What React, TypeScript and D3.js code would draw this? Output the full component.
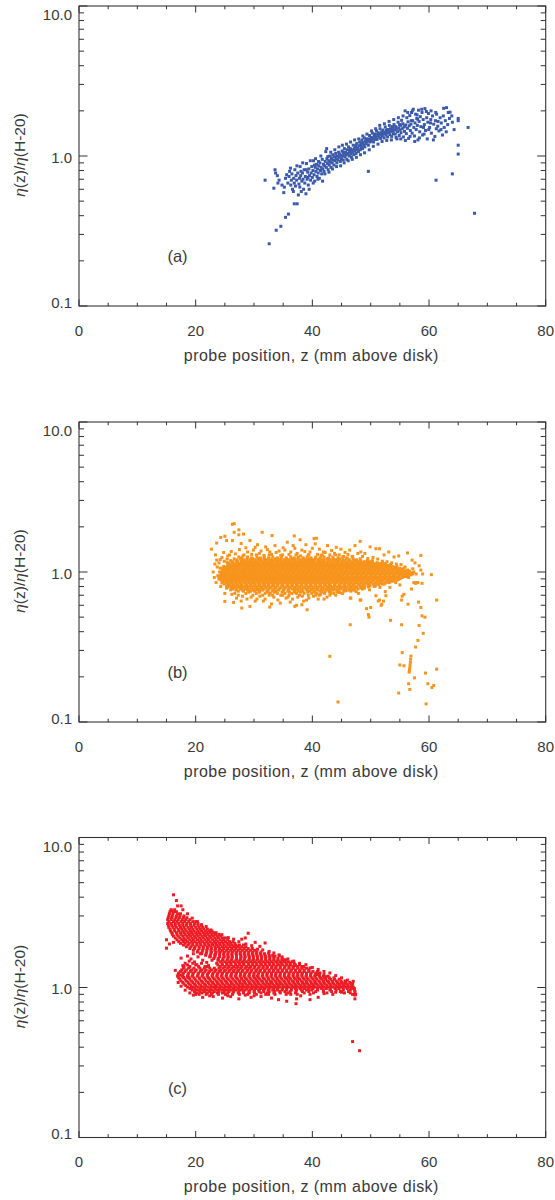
import React from 'react';
import * as d3 from 'd3';

const X_DOMAIN: [number, number] = [0, 80];
const Y_DOMAIN: [number, number] = [0.1, 10];
const X_TICKS = [0, 20, 40, 60, 80];
const Y_TICKS = [0.1, 1, 10];
const Y_TICK_LABELS = ['0.1', '1.0', '10.0'];
const PANEL_LABELS = ['(a)', '(b)', '(c)'];
const X_TITLE = 'probe position, z (mm above disk)';
const COLORS = ['#3b5aa9', '#f7941d', '#ed1c24'];

// Panel (a): [z, eta]
const pointsA: [number, number][] = [
  [31.9,0.69],[32.6,0.26],[33.4,0.61],[33.6,0.81],[33.7,0.77],[33.8,0.32],[34.0,0.74],[34.1,0.66],[34.3,0.69],[34.6,0.34],[34.8,0.64],[35.1,0.57],[35.2,0.62],[35.4,0.39],[35.4,0.71],[35.6,0.75],[35.8,0.66],[35.9,0.41],
  [36.0,0.73],[36.1,0.79],[36.3,0.64],[36.4,0.69],[36.5,0.76],[36.6,0.6],[36.8,0.71],[36.9,0.48],[36.9,0.66],[37.0,0.81],[37.1,0.63],[37.2,0.74],[37.3,0.69],[37.4,0.48],[37.5,0.77],[37.6,0.55],[37.7,0.65],[37.8,0.71],[37.9,0.85],[38.0,0.74],[38.1,0.58],[38.2,0.68],[38.3,0.77],[38.4,0.7],[38.5,0.6],[38.6,0.81],[38.7,0.66],[38.8,0.73],[38.9,0.56],
  [39.0,0.89],[39.1,0.7],[39.2,0.78],[39.3,0.64],[39.4,0.82],[39.5,0.74],[39.7,0.69],[39.8,0.77],[39.9,0.85],[40.0,0.72],[40.1,0.8],[40.2,0.93],[40.3,0.75],[40.4,0.68],[40.5,0.84],[40.6,0.79],[40.7,0.88],[40.8,0.73],[40.9,0.82],[41.0,0.77],[41.1,0.86],[41.2,0.71],[41.3,0.9],[41.4,0.8],[41.5,0.84],[41.6,0.76],[41.7,0.95],[41.8,0.82],[41.9,0.88],
  [42.0,0.79],[42.1,0.86],[42.2,0.92],[42.3,1.07],[42.4,0.84],[42.5,0.96],[42.6,0.89],[42.7,0.81],[42.8,0.93],[42.9,0.87],[43.0,1.0],[43.1,0.91],[43.2,0.84],[43.3,0.97],[43.4,0.9],[43.5,1.02],[43.6,0.94],[43.7,0.87],[43.8,0.99],[43.9,0.93],[44.0,1.04],[44.1,0.96],[44.2,0.9],[44.3,1.0],[44.4,0.94],[44.5,1.06],[44.6,0.98],[44.8,0.92],[44.9,1.01],
  [45.0,0.96],[45.1,1.08],[45.2,1.0],[45.3,0.94],[45.4,1.04],[45.5,1.12],[45.6,0.99],[45.7,1.06],[45.8,1.02],[45.9,0.95],[46.0,1.1],[46.1,1.04],[46.2,1.15],[46.3,1.0],[46.4,1.07],[46.5,1.12],[46.6,1.03],[46.7,0.98],[46.8,1.1],[46.9,1.06],[47.0,1.18],[47.1,1.02],[47.2,1.12],[47.3,1.08],[47.4,1.15],[47.5,1.04],[47.6,1.21],[47.7,1.1],[47.8,1.13],[47.9,1.07],
  [48.0,1.17],[48.1,1.24],[48.2,1.1],[48.3,1.19],[48.4,1.14],[48.5,1.28],[48.6,1.12],[48.7,1.23],[48.8,1.18],[48.9,1.32],[49.0,1.15],[49.1,1.26],[49.2,1.21],[49.3,1.3],[49.4,1.24],[49.6,0.79],[49.6,1.18],[49.7,1.3],[49.8,1.37],[49.9,1.24],[50.0,1.29],[50.1,1.33],[50.2,1.26],[50.3,1.42],[50.4,1.31],[50.5,1.24],[50.6,1.36],[50.7,1.29],[50.8,1.4],[50.9,1.33],
  [51.0,1.47],[51.1,1.29],[51.2,1.37],[51.3,1.43],[51.4,1.34],[51.5,1.4],[51.6,1.52],[51.7,1.31],[51.8,1.38],[51.9,1.45],[52.0,1.36],[52.1,1.49],[52.2,1.41],[52.3,1.32],[52.4,1.44],[52.5,1.56],[52.6,1.38],[52.7,1.48],[52.8,1.42],[52.9,1.34],[53.0,1.5],[53.1,1.44],[53.2,1.6],[53.3,1.39],[53.4,1.52],[53.5,1.46],[53.6,1.35],[53.7,1.57],[53.8,1.48],[53.9,1.41],
  [54.0,1.62],[54.1,1.49],[54.2,1.4],[54.3,1.57],[54.4,1.51],[54.5,1.3],[54.6,1.45],[54.7,1.68],[54.8,1.54],[54.9,1.37],[55.0,1.49],[55.1,1.6],[55.2,1.43],[55.3,1.73],[55.4,1.52],[55.5,1.64],[55.6,1.34],[55.7,1.56],[55.8,1.46],[55.9,2.0],[56.0,1.61],[56.1,1.41],[56.2,1.8],[56.3,1.53],[56.4,1.69],[56.5,1.31],[56.6,1.59],[56.7,1.86],[56.8,1.48],[56.9,1.63],
  [57.0,1.95],[57.1,1.42],[57.2,1.72],[57.3,2.05],[57.4,1.55],[57.5,1.36],[57.6,1.66],[57.7,1.9],[57.8,1.5],[57.9,1.78],[58.0,1.6],[58.1,1.28],[58.2,2.02],[58.3,1.7],[58.4,1.45],[58.5,1.83],[58.6,1.57],[58.8,1.95],[58.9,1.38],[59.0,1.75],[59.2,1.62],[59.3,2.07],[59.4,1.48],[59.6,1.8],[59.7,1.3],[59.8,1.68],[59.9,1.92],
  [60.1,1.55],[60.3,1.75],[60.4,1.42],[60.6,1.85],[60.8,1.63],[61.0,1.35],[61.1,1.72],[61.3,1.9],[61.5,1.58],[61.7,1.47],[61.9,1.8],[62.1,1.66],[62.3,1.38],[62.5,2.08],[62.6,1.55],[62.8,1.72],[63.2,1.62],[63.5,1.78],[63.6,1.96],[63.9,1.85],
  [36.25,0.83],[36.75,0.58],[37.35,0.86],[37.85,0.62],[38.35,0.9],[38.95,0.81],[39.45,0.6],[39.65,0.93],[40.15,0.66],[40.55,0.96],[40.95,0.7],[41.45,1.0],[41.75,0.68],[42.15,0.76],[42.45,1.12],[42.85,0.78],[43.15,1.06],[43.45,0.82],[43.85,1.1],[44.15,0.85],[44.55,1.15],[44.85,0.86],[45.15,1.18],[45.45,0.9],[45.85,1.2],[46.15,0.93],[46.55,1.24],[46.85,0.95],[47.25,1.28],[47.55,0.98],[47.95,1.3],[48.25,1.02],[48.65,1.36],[48.95,1.05],[49.35,1.4],[49.75,1.1],[50.15,1.47],[50.45,1.16],[50.85,1.52],[51.25,1.2],[51.55,1.6],[51.95,1.25],[52.35,1.64],[52.75,1.27],[53.15,1.7],[53.55,1.28],[53.95,1.75],[54.35,1.33],[54.75,1.8],[55.15,1.3],[55.55,1.85],[55.95,1.27],[56.35,1.95],[56.75,1.35],[57.15,2.0],[57.55,1.25],[57.95,1.88],[58.35,1.32],[58.75,2.05],[59.15,1.4],[59.55,1.98],[59.95,1.5],[60.35,2.0],[60.75,1.28],[61.15,1.95],[61.55,1.7],[62.05,1.5],[62.45,1.85],[62.95,1.45],[63.3,1.95],[64.0,1.68],[64.3,1.5],[63.0,2.1],
  [38.05,0.79],[39.25,0.72],[40.35,0.87],[41.05,0.92],[42.65,0.99],[43.25,0.95],[44.65,1.03],[45.25,1.06],[46.45,1.09],[47.45,1.17],[48.45,1.22],[49.55,1.27],[50.65,1.38],[51.85,1.42],[52.85,1.5],[53.85,1.55],[54.95,1.62],[55.85,1.58],[56.95,1.72],[58.05,1.76],[59.05,1.55],[60.25,1.66],[61.25,1.52],
  [61.2,0.69],[64.0,0.76],[65.0,1.18],[65.0,1.03],[65.0,1.78],[65.0,1.72],[66.7,1.55],[67.8,0.415]
];

// Panel (b): dense rows [eta, z values]
const rowsB: [number, number[]][] = [
  [0.70, [29.8,31.5,33.2,34.6,36.0,37.8,39.3,41.2,43.0]],
  [0.72, [28.6,30.4,31.9,32.8,34.0,35.3,36.5,37.3,38.6,39.9,40.8,42.1,43.7,45.1]],
  [0.733, [29.1,30.9,32.4,33.5,34.8,36.1,37.0,38.0,39.2,40.4,41.6,42.9,44.3]],
  [0.745, [27.3,28.2,29.4,30.1,31.0,32.2,33.1,33.8,35.0,35.8,36.9,37.6,38.4,39.5,40.3,41.4,42.2,43.1,44.2,45.4,46.6]],
  [0.757, [26.9,28.0,28.9,29.8,30.6,31.5,32.4,33.3,34.2,35.1,35.9,36.9,37.5,38.2,39.1,39.9,40.9,41.8,42.7,43.6,44.5,45.4,46.3,47.2]],
  [0.77, [26.4,27.6,28.5,29.2,30.0,30.9,31.6,32.5,33.4,34.3,35.1,35.9,36.6,37.4,38.1,39.0,39.8,40.6,41.5,42.4,43.2,44.0,44.9,45.8,46.7,47.8]],
  [0.782, [26.1,27.0,27.9,28.7,29.6,30.4,31.2,32.0,32.8,33.7,34.5,35.3,36.1,37.0,37.7,38.5,39.3,40.2,41.0,41.9,42.8,43.7,44.6,45.5,46.4,47.3,48.3]],
  [0.795, [25.6,26.6,27.5,28.1,28.9,29.7,30.5,31.3,32.1,32.9,33.7,34.6,35.4,36.2,37.0,37.8,38.6,39.4,40.1,40.9,41.7,42.6,43.4,44.3,45.1,45.9,46.8,47.6,48.5,49.6]],
  [0.807, [25.3,26.2,26.9,27.7,28.5,29.3,30.1,30.8,31.6,32.4,33.2,34.0,34.9,35.8,36.6,37.4,38.2,39.0,39.8,40.6,41.4,42.3,43.1,43.9,44.8,45.6,46.5,47.3,48.2,49.0,49.9,50.8]],
  [0.82, [25.8,26.5,27.2,27.9,28.7,29.5,30.2,31.0,31.8,32.5,33.3,34.0,34.8,35.7,36.5,37.3,38.1,38.9,39.7,40.5,41.3,42.1,42.9,43.8,44.6,45.5,46.3,47.1,48.0,48.8,49.7,50.6,51.4]],
  [0.832, [24.9,25.6,26.4,27.1,27.9,28.7,29.4,30.2,31.0,31.7,32.5,33.3,34.1,34.9,35.7,36.5,37.3,38.1,38.9,39.7,40.5,41.3,42.1,42.9,43.8,44.6,45.4,46.2,47.0,47.9,48.7,49.5,50.4,51.2,52.0]],
  [0.845, [24.5,25.3,26.1,26.9,27.6,28.4,29.2,29.9,30.7,31.5,32.2,33.0,33.7,34.5,35.2,36.0,36.8,37.6,38.4,39.2,40.0,40.8,41.6,42.4,43.2,44.0,44.9,45.7,46.6,47.4,48.3,49.1,49.9,50.8,51.6,52.5]],
  [0.857, [24.6,25.4,26.2,26.9,27.7,28.5,29.2,30.0,30.8,31.6,32.3,33.1,33.8,34.6,35.4,36.2,37.0,37.8,38.6,39.4,40.2,41.0,41.8,42.6,43.4,44.2,45.0,45.8,46.6,47.5,48.3,49.2,50.0,50.9,51.7,52.6,53.3]],
  [0.87, [25.0,25.7,26.5,27.3,28.0,28.8,29.6,30.3,31.1,31.9,32.6,33.4,34.1,34.9,35.6,36.4,37.2,38.0,38.8,39.6,40.4,41.2,42.0,42.8,43.6,44.4,45.3,46.1,46.9,47.8,48.6,49.5,50.3,51.2,52.0,52.9,53.6]],
  [0.882, [24.4,25.2,25.9,26.7,27.4,28.2,29.0,29.7,30.5,31.3,32.0,32.8,33.5,34.3,35.1,35.9,36.7,37.5,38.3,39.1,39.9,40.7,41.5,42.3,43.1,43.9,44.7,45.5,46.3,47.1,48.0,48.8,49.6,50.4,51.3,52.1,53.0,53.8,54.5]],
  [0.895, [24.0,24.8,25.5,26.2,27.0,27.7,28.5,29.3,30.0,30.8,31.5,32.3,33.0,33.8,34.5,35.3,36.1,36.9,37.7,38.5,39.3,40.1,40.9,41.7,42.5,43.3,44.1,45.0,45.8,46.6,47.4,48.2,49.1,49.9,50.7,51.6,52.4,53.3,54.1,54.8]],
  [0.907, [24.3,25.0,25.8,26.5,27.2,28.0,28.7,29.5,30.2,31.0,31.8,32.5,33.3,34.0,34.8,35.6,36.4,37.2,38.0,38.8,39.6,40.4,41.2,42.0,42.8,43.6,44.4,45.2,46.0,46.8,47.6,48.4,49.2,50.0,50.9,51.7,52.6,53.4,54.3,55.1]],
  [0.92, [24.6,25.3,26.0,26.8,27.5,28.3,29.0,29.8,30.5,31.3,32.0,32.8,33.5,34.3,35.0,35.8,36.6,37.4,38.2,39.0,39.8,40.6,41.4,42.2,43.0,43.8,44.7,45.5,46.3,47.1,47.9,48.7,49.6,50.4,51.2,52.0,52.9,53.7,54.5,55.4]],
  [0.932, [24.2,24.9,25.6,26.4,27.1,27.8,28.6,29.3,30.1,30.8,31.6,32.4,33.1,33.9,34.6,35.4,36.2,37.0,37.8,38.6,39.4,40.2,41.0,41.8,42.6,43.4,44.2,45.0,45.9,46.7,47.5,48.3,49.1,49.9,50.7,51.5,52.3,53.1,53.9,54.7,55.5,56.1]],
  [0.945, [23.8,24.5,25.2,26.0,26.7,27.4,28.2,28.9,29.7,30.4,31.2,31.9,32.7,33.4,34.2,34.9,35.7,36.5,37.3,38.1,38.9,39.7,40.5,41.3,42.1,42.9,43.7,44.5,45.3,46.1,46.9,47.7,48.5,49.3,50.1,50.9,51.7,52.5,53.3,54.1,54.9,55.6,56.3]],
  [0.957, [24.3,25.0,25.7,26.5,27.2,28.0,28.7,29.5,30.2,31.0,31.7,32.5,33.3,34.0,34.8,35.6,36.4,37.2,38.0,38.8,39.6,40.4,41.2,42.0,42.8,43.6,44.4,45.2,46.0,46.8,47.6,48.4,49.2,50.0,50.8,51.6,52.4,53.2,54.0,54.8,55.5,56.2,56.9]],
  [0.97, [24.7,25.4,26.2,26.9,27.7,28.4,29.2,29.9,30.7,31.4,32.2,32.9,33.7,34.4,35.2,36.0,36.8,37.6,38.4,39.2,40.0,40.8,41.6,42.4,43.2,44.0,44.8,45.6,46.4,47.2,48.0,48.8,49.6,50.4,51.2,52.0,52.8,53.6,54.4,55.2,55.9,56.6,57.2]],
  [0.985, [24.4,25.2,26.0,26.7,27.5,28.2,29.0,29.7,30.5,31.2,32.0,32.7,33.5,34.2,35.0,35.8,36.6,37.4,38.2,39.0,39.8,40.6,41.4,42.2,43.0,43.8,44.6,45.4,46.2,47.0,47.8,48.6,49.4,50.2,51.0,51.8,52.6,53.4,54.2,55.0,55.7,56.4,57.1]],
  [1.0, [24.1,24.9,25.6,26.4,27.1,27.9,28.6,29.4,30.1,30.9,31.6,32.4,33.1,33.9,34.6,35.4,36.2,37.0,37.8,38.6,39.4,40.2,41.0,41.8,42.6,43.4,44.2,45.0,45.8,46.6,47.4,48.2,49.0,49.8,50.6,51.4,52.2,53.0,53.8,54.6,55.3,56.0,56.7,57.4]],
  [1.015, [24.6,25.4,26.2,26.9,27.7,28.4,29.2,30.0,30.7,31.5,32.2,33.0,33.7,34.5,35.2,36.0,36.8,37.6,38.4,39.2,40.0,40.8,41.6,42.4,43.2,44.0,44.8,45.6,46.4,47.2,48.0,48.8,49.6,50.4,51.2,52.0,52.8,53.6,54.4,55.1,55.9,56.6]],
  [1.03, [25.1,25.8,26.6,27.3,28.1,28.8,29.6,30.3,31.1,31.8,32.6,33.3,34.1,34.8,35.6,36.4,37.2,38.0,38.8,39.6,40.4,41.2,42.0,42.8,43.6,44.4,45.2,46.0,46.8,47.6,48.4,49.2,50.0,50.8,51.6,52.4,53.2,54.0,54.8,55.5,56.3]],
  [1.045, [24.9,25.6,26.4,27.1,27.9,28.7,29.4,30.2,30.9,31.7,32.4,33.2,33.9,34.7,35.4,36.2,37.0,37.8,38.6,39.4,40.2,41.0,41.8,42.6,43.4,44.2,45.0,45.8,46.6,47.4,48.2,49.0,49.8,50.6,51.4,52.2,53.0,53.8,54.6,55.4]],
  [1.06, [24.5,25.3,26.0,26.8,27.5,28.3,29.0,29.8,30.5,31.3,32.0,32.8,33.5,34.3,35.0,35.8,36.6,37.4,38.2,39.0,39.8,40.6,41.4,42.2,43.0,43.8,44.6,45.4,46.2,47.0,47.8,48.6,49.4,50.2,51.0,51.8,52.6,53.4,54.2,55.0,55.7]],
  [1.075, [25.2,25.9,26.7,27.4,28.2,28.9,29.7,30.4,31.2,31.9,32.7,33.4,34.2,34.9,35.7,36.5,37.3,38.1,38.9,39.7,40.5,41.3,42.1,42.9,43.7,44.5,45.3,46.1,46.9,47.7,48.5,49.3,50.1,50.9,51.7,52.5,53.3,54.1]],
  [1.09, [24.8,25.6,26.3,27.1,27.8,28.6,29.3,30.1,30.8,31.6,32.3,33.1,33.8,34.6,35.3,36.1,36.9,37.7,38.5,39.3,40.1,40.9,41.7,42.5,43.3,44.1,44.9,45.7,46.5,47.3,48.1,48.9,49.7,50.5,51.3,52.1,52.9,53.7,54.5]],
  [1.105, [25.5,26.3,27.0,27.8,28.5,29.3,30.0,30.8,31.5,32.3,33.0,33.8,34.5,35.3,36.1,36.9,37.7,38.5,39.3,40.1,40.9,41.7,42.5,43.3,44.1,44.9,45.7,46.5,47.3,48.1,48.9,49.7,50.5,51.3,52.2,53.0]],
  [1.12, [25.9,26.7,27.4,28.2,28.9,29.7,30.4,31.2,31.9,32.7,33.4,34.2,34.9,35.7,36.5,37.3,38.1,38.9,39.7,40.5,41.3,42.1,42.9,43.7,44.5,45.3,46.1,46.9,47.7,48.5,49.3,50.1,50.9,51.7,52.6,53.4]],
  [1.137, [25.7,26.6,27.5,28.3,29.0,29.8,30.6,31.4,32.1,32.9,33.7,34.5,35.2,36.0,36.8,37.6,38.4,39.2,40.0,40.8,41.6,42.4,43.2,44.0,44.8,45.6,46.4,47.2,48.1,48.9,49.8,50.6,51.5,52.4]],
  [1.155, [25.4,26.3,27.1,27.9,28.6,29.4,30.2,30.9,31.7,32.5,33.2,34.0,34.8,35.5,36.3,37.1,37.9,38.7,39.5,40.3,41.1,41.9,42.7,43.5,44.3,45.1,45.9,46.8,47.6,48.5,49.3,50.2,51.1,52.0]],
  [1.172, [26.3,27.2,28.1,28.9,29.8,30.6,31.5,32.3,33.1,34.0,34.8,35.7,36.5,37.4,38.2,39.1,39.9,40.8,41.6,42.5,43.4,44.2,45.1,46.0,46.9,47.9,48.9,49.8]],
  [1.19, [26.0,26.9,27.8,28.6,29.4,30.3,31.1,31.9,32.8,33.6,34.4,35.3,36.1,36.9,37.8,38.6,39.5,40.3,41.2,42.0,42.9,43.8,44.6,45.5,46.4,47.3,48.3,49.4,50.3]],
  [1.207, [27.1,28.2,29.3,30.2,31.2,32.1,33.1,34.1,35.1,36.0,37.0,38.0,39.0,40.0,41.0,42.0,43.1,44.1,45.2,46.3,47.6]],
  [1.225, [26.6,27.7,28.8,29.8,30.7,31.7,32.6,33.6,34.6,35.6,36.5,37.5,38.5,39.5,40.5,41.5,42.5,43.6,44.7,45.8,47.0,48.2]],
  [1.242, [27.9,29.6,31.1,32.5,34.0,35.5,36.9,38.4,39.8,41.3,42.8,44.4,46.0]],
  [1.26, [27.4,28.9,30.5,31.8,33.2,34.7,36.3,37.6,39.1,40.6,42.0,43.5,45.2,46.8]],
  [1.3, [28.3,30.4,32.6,34.9,37.2,39.4,41.7,44.0]]
];

// Panel (b): scattered points [z, eta]
const scatterB: [number, number][] = [
  [22.7,1.42],[23.6,1.56],[24.3,1.7],[25.0,1.73],[25.3,1.62],[26.3,1.62],[26.3,2.08],[26.6,2.1],[26.6,1.84],[27.4,1.77],[27.4,1.91],[28.2,1.79],[27.8,1.55],[28.6,1.45],[29.3,1.62],[29.9,1.4],[30.6,1.52],[31.4,1.84],[31.2,1.38],[32.0,1.47],[32.7,1.36],[33.1,1.75],[33.6,1.5],[34.3,1.38],[35.0,1.45],[35.7,1.58],[36.3,1.36],[36.9,1.74],[37.0,1.44],[37.9,1.64],[38.2,1.4],[38.9,1.52],[39.6,1.36],[40.3,1.67],[40.5,1.54],[40.7,1.68],[41.2,1.42],[41.9,1.36],[42.6,1.5],[43.3,1.39],[44.1,1.46],[44.9,1.42],[45.6,1.35],[46.4,1.4],[47.3,1.5],[48.2,1.6],[48.3,1.36],[49.0,1.33],[49.9,1.47],[50.9,1.43],[51.5,1.43],[52.3,1.3],[53.1,1.36],[54.0,1.26],[54.8,1.28],[56.3,1.34],[57.1,1.2],[58.6,1.29],
  [24.2,1.21],[23.4,1.3],[24.8,1.35],[25.5,1.28],[26.1,1.37],[23.9,0.935],[24.2,1.06],[24.7,0.89],[25.2,0.97],[25.9,0.87],[25.3,0.78],[25.0,0.72],[26.2,0.71],[27.0,0.67],[27.8,0.64],[23.3,1.13],[23.0,1.0],
  [23.5,0.85],[23.7,1.08],[23.2,0.92],[24.0,1.15],[24.5,1.25],[24.3,0.8],[23.6,1.2],[24.9,1.18],[25.4,1.22],[25.8,1.3],
  [26.8,1.32],[27.5,1.41],[28.1,1.28],[28.9,1.36],[29.6,1.31],[30.2,1.46],[30.9,1.33],[31.7,1.29],[32.3,1.41],[33.0,1.31],[33.8,1.35],[34.6,1.29],[35.3,1.4],[36.0,1.31],[36.7,1.5],[37.4,1.33],[38.0,1.28],[38.7,1.37],[39.3,1.3],[40.0,1.44],[40.9,1.31],[41.5,1.29],[42.2,1.35],[43.0,1.3],[43.8,1.33],[44.6,1.3],[45.4,1.27],[46.1,1.31],[46.9,1.27],[47.8,1.33],[48.6,1.27],[49.5,1.23],[50.4,1.25],[51.2,1.22],[52.0,1.18],[52.8,1.17],[53.6,1.15],[54.4,1.13],[55.2,1.12],[55.9,1.08],
  [26.0,0.76],[26.7,0.72],[27.3,0.7],[28.0,0.69],[28.8,0.66],[29.5,0.68],[30.2,0.64],[31.0,0.69],[31.9,0.66],[32.6,0.7],[33.4,0.68],[34.1,0.65],[34.9,0.7],[35.8,0.68],[36.6,0.66],[37.5,0.68],[38.3,0.69],[39.4,0.67],[40.6,0.7],[41.4,0.71],[42.0,0.66],[43.2,0.72],[44.7,0.73],[45.8,0.75],[46.9,0.76],[47.9,0.72],[48.9,0.78],[49.8,0.76],[50.6,0.8],[51.6,0.79],[52.3,0.83],[53.1,0.85],[53.9,0.87],[54.8,0.9],[55.6,0.93],[56.3,0.96],
  [25.0,0.637],[26.5,0.627],[27.9,0.575],[29.3,0.59],[30.5,0.66],[31.6,0.64],[32.7,0.584],[33.0,0.612],[34.5,0.62],[35.5,0.67],[36.2,0.63],[37.0,0.59],[37.3,0.6],[38.2,0.605],[38.5,0.64],[39.1,0.56],[39.0,0.65],[40.2,0.69],[41.0,0.66],[42.5,0.68],[44.0,0.7],[45.2,0.72],[46.5,0.67],[47.5,0.74],[48.2,0.65],[48.6,0.77],[49.3,0.57],[49.6,0.52],[49.7,0.5],[50.0,0.58],[50.9,0.695],[51.3,0.64],[51.5,0.65],[51.8,0.6],[51.9,0.61],[52.2,0.64],[52.5,0.74],[52.6,0.695],[53.3,0.79],[53.4,0.476],[46.6,0.67],[48.3,0.65],
  [54.3,0.85],[55.0,0.82],[55.4,0.69],[55.7,0.71],[55.3,0.65],[56.4,0.61],[57.0,0.77],[57.4,0.85],[57.7,0.84],[57.9,0.85],[58.1,0.85],[58.2,0.63],[58.6,0.58],[58.8,0.84],[58.6,1.03],[58.9,0.97],[60.4,0.96],[61.3,0.65],[58.8,0.51],[59.3,0.5],[58.3,0.44],[59.0,0.39],[58.1,0.35],[57.7,0.316],[55.3,0.445],[55.4,0.29],
  [56.9,0.275],[56.85,0.262],[56.8,0.25],[56.75,0.24],[56.7,0.23],[56.65,0.222],[56.6,0.215],[55.0,0.24],[55.7,0.237],[57.5,0.197],[56.5,0.18],[56.7,0.165],[54.8,0.156],[59.4,0.212],[59.8,0.18],[60.5,0.17],[60.8,0.175],[61.3,0.225],[59.5,0.132],[44.4,0.136],[46.5,0.445],[43.0,0.274],
  [56.5,0.92],[57.2,1.05],[57.8,0.97],[58.3,1.1],[57.6,1.15]
];

// Panel (c): dense rows [eta, z values]
const rowsC: [number, number[]][] = [
  [3.3, [15.8,16.4]],
  [3.2, [15.6,16.2,16.7]],
  [3.1, [15.5,16.1,16.9,17.4]],
  [3.0, [15.4,16.0,16.7,17.3,18.0]],
  [2.92, [15.3,15.9,16.6,17.2,17.9,18.5]],
  [2.83, [15.2,15.8,16.4,17.0,17.7,18.3,19.0]],
  [2.75, [15.4,16.2,16.8,17.5,18.1,18.8,19.5,20.0]],
  [2.67, [15.2,15.8,16.5,17.1,17.8,18.5,19.1,19.8,20.4]],
  [2.6, [15.3,15.9,16.5,17.2,17.8,18.4,19.1,19.7,20.4,21.0]],
  [2.52, [15.4,16.1,16.7,17.4,18.0,18.7,19.3,20.0,20.6,21.2]],
  [2.45, [15.6,16.3,17.0,17.6,18.2,18.9,19.5,20.2,20.8,21.4,22.0]],
  [2.38, [15.7,16.4,17.1,17.8,18.4,19.1,19.7,20.4,21.0,21.7,22.3,22.8]],
  [2.32, [15.9,16.7,17.4,18.0,18.7,19.3,20.0,20.6,21.3,21.9,22.5,23.1]],
  [2.26, [16.0,16.8,17.5,18.2,18.9,19.5,20.2,20.8,21.5,22.1,22.8,23.4,24.0]],
  [2.2, [16.2,17.0,17.8,18.5,19.1,19.8,20.4,21.1,21.7,22.4,23.0,23.7,24.3]],
  [2.14, [16.5,17.3,18.0,18.7,19.4,20.0,20.7,21.3,22.0,22.6,23.3,23.9,24.6,25.1]],
  [2.08, [16.8,17.6,18.3,19.0,19.6,20.3,20.9,21.6,22.2,22.9,23.5,24.2,24.8,25.5]],
  [2.02, [17.1,17.9,18.6,19.3,19.9,20.6,21.2,21.9,22.5,23.2,23.8,24.5,25.1,25.8,26.4]],
  [1.97, [17.4,18.2,18.9,19.5,20.2,20.8,21.5,22.1,22.8,23.4,24.1,24.7,25.4,26.0,26.7]],
  [1.92, [17.9,18.7,19.5,20.2,20.9,21.6,22.3,22.9,23.6,24.2,24.9,25.6,26.2,26.9,27.5,28.2]],
  [1.87, [18.4,19.2,19.9,20.6,21.3,22.0,22.6,23.3,23.9,24.6,25.2,25.9,26.5,27.2,27.9,28.6]],
  [1.82, [19.0,19.8,20.6,21.3,22.0,22.7,23.4,24.1,24.8,25.5,26.2,26.9,27.6,28.3,29.0,29.7]],
  [1.77, [19.6,20.4,21.2,21.9,22.6,23.3,24.0,24.6,25.3,26.0,26.6,27.3,28.0,28.7,29.4,30.1]],
  [1.725, [20.3,21.1,21.9,22.7,23.5,24.2,24.9,25.6,26.3,27.0,27.7,28.4,29.1,29.8,30.5,31.2]],
  [1.68, [21.0,21.8,22.6,23.4,24.1,24.8,25.5,26.2,26.9,27.6,28.3,29.0,29.7,30.4,31.1,31.8]],
  [1.64, [21.7,22.5,23.3,24.1,24.8,25.5,26.2,27.0,27.7,28.4,29.1,29.8,30.5,31.2,31.9,32.6,33.2]],
  [1.6, [22.4,23.3,24.1,24.9,25.6,26.3,27.0,27.8,28.5,29.2,29.9,30.6,31.3,32.0,32.7,33.4]],
  [1.56, [23.1,23.9,24.7,25.5,26.2,27.0,27.7,28.4,29.2,29.9,30.6,31.3,32.0,32.7,33.4,34.1,34.8]],
  [1.52, [23.8,24.6,25.4,26.1,26.9,27.6,28.3,29.1,29.8,30.5,31.2,32.0,32.7,33.4,34.1,34.8,35.5]],
  [1.485, [24.2,25.0,25.8,26.5,27.3,28.0,28.7,29.4,30.1,30.9,31.6,32.3,33.0,33.8,34.5,35.2,35.9,36.5]],
  [1.45, [19.5,24.5,25.3,26.0,26.8,27.5,28.2,29.0,29.7,30.4,31.1,31.9,32.6,33.3,34.0,34.7,35.5,36.2,36.9]],
  [1.415, [18.6,20.0,23.8,24.6,25.4,26.1,26.9,27.6,28.3,29.1,29.8,30.5,31.3,32.0,32.7,33.4,34.2,34.9,35.6,36.3,37.1,37.8]],
  [1.38, [18.0,19.0,20.5,22.0,24.2,25.0,25.7,26.5,27.2,27.9,28.7,29.4,30.1,30.9,31.6,32.3,33.1,33.8,34.5,35.3,36.0,36.7,37.5,38.2]],
  [1.345, [17.9,18.8,19.7,20.7,21.5,22.4,23.2,24.0,24.7,25.5,26.2,27.0,27.7,28.5,29.2,30.0,30.7,31.5,32.2,33.0,33.7,34.5,35.2,36.0,36.7,37.5,38.2,39.0]],
  [1.31, [17.6,18.4,19.3,20.1,21.0,21.8,22.7,23.5,24.3,25.1,25.9,26.6,27.4,28.1,28.9,29.6,30.4,31.1,31.9,32.6,33.4,34.1,34.9,35.6,36.4,37.1,37.9,38.6,39.4]],
  [1.28, [17.4,18.2,19.1,19.9,20.8,21.6,22.4,23.3,24.1,24.9,25.7,26.5,27.2,28.0,28.8,29.5,30.3,31.0,31.8,32.6,33.3,34.1,34.8,35.6,36.3,37.1,37.8,38.6,39.4,40.1,40.9]],
  [1.25, [17.1,17.9,18.8,19.6,20.5,21.3,22.2,23.0,23.8,24.6,25.4,26.2,27.0,27.7,28.5,29.3,30.0,30.8,31.5,32.3,33.0,33.8,34.5,35.3,36.0,36.8,37.5,38.3,39.0,39.8,40.6,41.3]],
  [1.22, [17.0,17.8,18.7,19.5,20.4,21.2,22.0,22.9,23.7,24.5,25.3,26.1,26.9,27.7,28.4,29.2,30.0,30.7,31.5,32.2,33.0,33.7,34.5,35.2,36.0,36.7,37.5,38.2,39.0,39.7,40.5,41.2,42.0]],
  [1.19, [16.9,17.7,18.6,19.4,20.3,21.1,22.0,22.8,23.6,24.4,25.2,26.0,26.8,27.6,28.3,29.1,29.9,30.6,31.4,32.2,32.9,33.7,34.4,35.2,35.9,36.7,37.4,38.2,38.9,39.7,40.4,41.2,41.9,42.7]],
  [1.16, [17.1,18.0,18.9,19.7,20.6,21.4,22.2,23.0,23.8,24.6,25.4,26.2,27.0,27.8,28.5,29.3,30.1,30.8,31.6,32.4,33.1,33.9,34.6,35.4,36.1,36.9,37.6,38.4,39.1,39.9,40.6,41.4,42.1,42.9,43.7]],
  [1.135, [17.3,18.2,19.0,19.9,20.7,21.6,22.4,23.2,24.0,24.8,25.6,26.4,27.2,27.9,28.7,29.5,30.3,31.0,31.8,32.5,33.3,34.0,34.8,35.6,36.3,37.1,37.8,38.6,39.3,40.1,40.8,41.6,42.3,43.1,43.8,44.6]],
  [1.105, [17.5,18.4,19.3,20.1,21.0,21.8,22.6,23.5,24.3,25.1,25.9,26.7,27.5,28.2,29.0,29.8,30.5,31.3,32.1,32.8,33.6,34.3,35.1,35.9,36.6,37.4,38.1,38.9,39.6,40.4,41.1,41.9,42.6,43.4,44.1,44.9,45.6]],
  [1.08, [17.8,18.7,19.5,20.4,21.2,22.1,22.9,23.7,24.5,25.3,26.1,26.9,27.6,28.4,29.2,30.0,30.7,31.5,32.2,33.0,33.8,34.5,35.3,36.0,36.8,37.5,38.3,39.0,39.8,40.5,41.3,42.0,42.8,43.5,44.3,45.0,45.7,46.4]],
  [1.055, [18.0,18.9,19.8,20.6,21.5,22.3,23.1,23.9,24.7,25.5,26.3,27.1,27.9,28.6,29.4,30.2,30.9,31.7,32.5,33.2,34.0,34.7,35.5,36.2,37.0,37.7,38.5,39.2,40.0,40.7,41.5,42.2,43.0,43.7,44.5,45.2,45.9,46.6]],
  [1.03, [18.3,19.2,20.0,20.9,21.7,22.6,23.4,24.2,25.0,25.8,26.6,27.4,28.1,28.9,29.7,30.4,31.2,32.0,32.7,33.5,34.2,35.0,35.7,36.5,37.2,38.0,38.7,39.5,40.2,41.0,41.7,42.5,43.2,44.0,44.7,45.4,46.1,46.8]],
  [1.007, [18.6,19.5,20.4,21.2,22.1,22.9,23.7,24.5,25.3,26.1,26.9,27.7,28.4,29.2,30.0,30.7,31.5,32.3,33.0,33.8,34.5,35.3,36.0,36.8,37.5,38.3,39.0,39.8,40.5,41.3,42.0,42.8,43.5,44.3,45.0,45.7,46.4,47.0]],
  [0.985, [19.0,19.9,20.8,21.6,22.5,23.3,24.1,24.9,25.7,26.5,27.3,28.0,28.8,29.6,30.3,31.1,31.8,32.6,33.4,34.1,34.9,35.6,36.4,37.1,37.9,38.6,39.4,40.1,40.9,41.6,42.4,43.1,43.9,44.6,45.3,46.0,46.7,47.2]],
  [0.962, [19.4,20.3,21.2,22.0,22.8,23.7,24.5,25.3,26.1,26.9,27.7,28.5,29.3,30.1,30.8,31.6,32.4,33.2,34.0,34.8,35.6,36.4,37.3,38.1,39.0,39.9,40.9,41.9,43.0,44.1,45.3,46.5,47.2]],
  [0.94, [19.8,20.7,21.5,22.4,23.2,24.0,24.9,25.7,26.5,27.4,28.2,29.1,30.0,30.9,31.7,32.6,33.5,34.4,35.3,36.2,37.2,38.3,39.4,40.6,41.9,43.3,44.8,46.2,47.3]],
  [0.92, [20.2,21.1,22.0,22.9,23.7,24.6,25.5,26.4,27.3,28.2,29.2,30.1,31.2,32.3,33.4,34.5,35.8,37.1,38.6,40.2,42.5,45.5]],
  [0.9, [20.6,21.8,22.7,23.9,25.1,26.3,27.5,28.9,30.4,32.0,33.6,35.5,37.4,39.6,46.9,47.4]]
];

// Panel (c): scattered points [z, eta]
const scatterC: [number, number][] = [
  [16.2,4.15],[16.7,3.8],[16.9,3.5],[17.5,3.5],[15.8,3.26],[15.0,2.08],[15.0,1.83],[15.5,1.95],[16.2,2.0],[18.0,2.05],[17.5,1.57],[18.9,1.5],[17.3,1.21],[17.9,1.17],[18.7,1.17],[16.5,1.3],[19.6,0.89],[19.3,0.99],[20.2,1.42],[21.0,1.45],[21.6,1.38],[22.5,1.61],[23.3,1.65],
  [18.2,1.45],[18.6,1.62],[19.2,1.55],[19.8,1.48],[20.4,1.6],[21.2,1.52],[21.9,1.47],[22.8,1.52],[23.6,1.45],[19.6,1.68],[17.8,1.4],[20.8,1.68],[22.2,1.4],
  [17.8,3.3],[18.6,3.1],[19.4,2.9],[20.3,2.75],[21.0,2.62],[21.8,2.55],[22.6,2.42],[23.5,2.32],[24.5,2.25],[25.6,2.15],[26.5,2.1],[27.4,2.02],[28.6,1.95],[29.6,1.9],[30.6,1.8],[31.5,1.78],[32.5,1.7],[33.6,1.62],[34.8,1.6],[35.8,1.55],[36.8,1.5],[37.8,1.45],[38.9,1.42],[40.0,1.36],[41.0,1.32],[42.0,1.28],[43.0,1.25],[44.0,1.2],[45.0,1.16],[46.0,1.12],[47.0,1.1],
  [17.0,1.08],[17.5,1.02],[18.2,0.96],[19.0,0.92],[20.0,0.9],[23.0,0.87],[25.5,0.88],[28.5,0.89],[30.0,0.88],[32.5,0.9],[36.3,0.9],[38.0,0.88],[42.0,0.91],[44.0,0.93],
  [29.0,2.3],[28.5,2.14],[27.9,2.1],[27.3,1.88],[26.7,1.88],[30.2,2.0],[31.0,1.88],[31.9,1.98],[32.6,1.74],[33.4,1.7],[34.3,1.63],[35.0,1.53],[34.3,1.65],[35.3,1.53],[36.2,1.42],[37.0,1.4],[38.5,1.38],[39.6,1.35],[40.8,1.22],[42.3,1.18],[45.6,1.07],[46.9,1.06],
  [34.2,0.83],[35.6,0.81],[37.3,0.84],[39.6,0.83],[37.2,0.78],[47.3,0.89],[47.3,0.84],[21.2,0.86],[22.4,0.88],[24.6,0.85],[26.0,0.87],[27.4,0.84],[29.5,0.86],[31.2,0.87],[33.0,0.85],[41.0,0.86],[43.5,0.9],[45.0,0.93],[46.5,0.92],
  [46.9,0.436],[48.1,0.379]
];

const expandRows = (rows: [number, number[]][]): [number, number][] =>
  rows.flatMap(([eta, zs]) => zs.map((z) => [z, eta] as [number, number]));

const FONT = '"Liberation Sans", Arial, Helvetica, sans-serif';
const AXIS = '#333';
const TEXT = '#3a3a3a';

function Panel({ top, color, label, pts }: { top: number; color: string; label: string; pts: [number, number][] }) {
  const x = d3.scaleLinear().domain(X_DOMAIN).range([79, 545.7]);
  const y = d3.scaleLog().domain(Y_DOMAIN).range([top + 300, top]);
  const x0 = x(X_DOMAIN[0]);
  const x1 = x(X_DOMAIN[1]);
  const yb = y(Y_DOMAIN[0]);
  const yt = y(Y_DOMAIN[1]);
  const xMinor = d3.range(X_DOMAIN[0], X_DOMAIN[1] + 0.01, 5).filter((v) => !X_TICKS.includes(v));
  const yMinor = y.ticks().filter((v) => !Y_TICKS.some((t) => Math.abs(t - v) < 1e-9));
  const yLabelOffsets = [-3.5, 1.5, 9];
  const s = 3;
  return (
    <g>
      {pts.map(([z, e], i) => (
        <rect key={i} x={x(z) - s / 2} y={y(e) - s / 2} width={s} height={s} fill={color} />
      ))}
      <rect x={x0} y={yt} width={x1 - x0} height={yb - yt} fill="none" stroke={AXIS} strokeWidth={1.1} />
      {X_TICKS.map((t) => (
        <g key={'xm' + t}>
          <line x1={x(t)} x2={x(t)} y1={yb} y2={yb - 6.5} stroke={AXIS} />
          <line x1={x(t)} x2={x(t)} y1={yt} y2={yt + 6.5} stroke={AXIS} />
          <text x={x(t)} y={yb + 29.7} textAnchor="middle" fontSize={15} fill={TEXT} fontFamily={FONT}>{t}</text>
        </g>
      ))}
      {xMinor.map((t) => (
        <g key={'xn' + t}>
          <line x1={x(t)} x2={x(t)} y1={yb} y2={yb - 3.3} stroke={AXIS} />
          <line x1={x(t)} x2={x(t)} y1={yt} y2={yt + 3.3} stroke={AXIS} />
        </g>
      ))}
      {Y_TICKS.map((t, i) => (
        <g key={'ym' + t}>
          <line x1={x0} x2={x0 + 8.5} y1={y(t)} y2={y(t)} stroke={AXIS} />
          <line x1={x1} x2={x1 - 8.5} y1={y(t)} y2={y(t)} stroke={AXIS} />
          <text x={72} y={y(t) + yLabelOffsets[i] + 5.3} textAnchor="end" fontSize={15} fill={TEXT} fontFamily={FONT}>{Y_TICK_LABELS[i]}</text>
        </g>
      ))}
      {yMinor.map((t) => (
        <g key={'yn' + t}>
          <line x1={x0} x2={x0 + 5} y1={y(t)} y2={y(t)} stroke={AXIS} />
          <line x1={x1} x2={x1 - 5} y1={y(t)} y2={y(t)} stroke={AXIS} />
        </g>
      ))}
      <text x={(x0 + x1) / 2 - 1} y={yb + 54.5} textAnchor="middle" fontSize={16} letterSpacing={0.45} fill={TEXT} fontFamily={FONT}>{X_TITLE}</text>
      <text transform={`translate(25,${top + 149}) rotate(-90)`} textAnchor="middle" fontSize={15.5} fill={TEXT} fontFamily={FONT}>
        <tspan fontStyle="italic">η</tspan>(z)/<tspan fontStyle="italic">η</tspan>(H-20)
      </text>
      <text x={177.5} y={top + 256} textAnchor="middle" fontSize={16.5} fill={TEXT} fontFamily={FONT}>{label}</text>
    </g>
  );
}

export default function App() {
  const tops = [6, 422, 837.5];
  const data: [number, number][][] = [
    pointsA,
    [...expandRows(rowsB), ...scatterB],
    [...expandRows(rowsC), ...scatterC],
  ];
  return (
    <svg width={555} height={1200} style={{ position: 'absolute', left: 0, top: 0, background: '#fff' }}>
      <rect width={555} height={1200} fill="#fff" />
      {tops.map((t, i) => (
        <Panel key={i} top={t} color={COLORS[i]} label={PANEL_LABELS[i]} pts={data[i]} />
      ))}
    </svg>
  );
}
